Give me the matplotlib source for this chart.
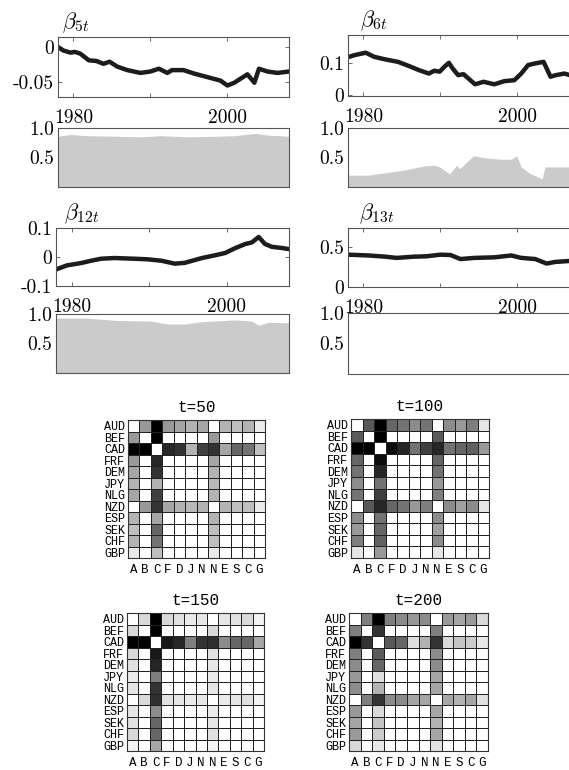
import matplotlib
matplotlib.use("Agg")
import matplotlib.pyplot as plt
import numpy as np

plt.rcParams['mathtext.fontset'] = 'cm'
plt.rcParams['font.family'] = 'serif'
plt.rcParams['font.serif'] = ['cmr10', 'DejaVu Serif']
plt.rcParams['axes.unicode_minus'] = False

# ---- time varying coefficients (line) ----
b5_years = [1978.0, 1978.7, 1979.6, 1980.2, 1980.9, 1982.0, 1983.0, 1983.9, 1984.7, 1985.7,
            1987.0, 1988.7, 1990.0, 1991.1, 1992.2, 1992.8, 1994.3, 1995.7, 1997.4, 1999.1,
            2000.0, 2000.9, 2002.6, 2003.5, 2004.1, 2005.2, 2006.5, 2008.0]
b5_vals = [0.0, -0.005, -0.008, -0.007, -0.0095, -0.019, -0.020, -0.024, -0.021, -0.028,
           -0.033, -0.037, -0.035, -0.031, -0.037, -0.033, -0.033, -0.038, -0.043, -0.048,
           -0.055, -0.051, -0.039, -0.051, -0.031, -0.035, -0.037, -0.035]

b6_years = [1977.9, 1978.8, 1980.3, 1981.4, 1982.8, 1984.5, 1985.9, 1987.2, 1988.5, 1989.2,
            1989.9, 1990.5, 1991.1, 1991.6, 1992.3, 1993.0, 1994.5, 1995.6, 1997.0, 1998.3,
            1999.6, 2000.5, 2001.4, 2002.3, 2003.4, 2004.3, 2005.0, 2006.1, 2006.8, 2007.3, 2008.0]
b6_vals = [0.119, 0.126, 0.134, 0.121, 0.113, 0.105, 0.092, 0.079, 0.068, 0.077,
           0.074, 0.089, 0.102, 0.084, 0.063, 0.066, 0.034, 0.042, 0.034, 0.044,
           0.047, 0.068, 0.095, 0.100, 0.105, 0.058, 0.063, 0.068, 0.063, 0.060, 0.060]

b12_years = [1977.9, 1979.4, 1981.2, 1982.5, 1983.8, 1985.5, 1988.1, 1989.8, 1991.6, 1993.3,
             1994.6, 1996.8, 1998.5, 1999.8, 2001.1, 2002.4, 2003.2, 2004.1, 2004.9, 2005.8,
             2007.1, 2008.3]
b12_vals = [-0.044, -0.029, -0.021, -0.013, -0.006, -0.0035, -0.006, -0.008, -0.013, -0.023,
            -0.020, -0.0035, 0.006, 0.014, 0.031, 0.045, 0.050, 0.069, 0.045, 0.035,
            0.031, 0.026]

b13_years = [1978.0, 1980.7, 1982.9, 1984.3, 1986.5, 1988.2, 1990.0, 1991.3, 1992.6, 1994.4,
             1997.0, 1999.2, 2000.5, 2002.3, 2003.8, 2004.9, 2007.2, 2008.0]
b13_vals = [0.40, 0.39, 0.375, 0.36, 0.375, 0.38, 0.40, 0.396, 0.346, 0.36,
            0.367, 0.39, 0.36, 0.346, 0.29, 0.31, 0.325, 0.325]

# ---- inclusion probabilities (filled) ----
p5_years = [1978.0, 1979.6, 1981.7, 1985.7, 1988.7, 1991.3, 1994.8, 1998.7, 2000.9, 2003.7, 2005.2, 2008.0]
p5_vals = [0.86, 0.89, 0.87, 0.86, 0.85, 0.87, 0.85, 0.86, 0.87, 0.91, 0.88, 0.86]

p6_years = [1977.9, 1980.5, 1982.8, 1985.4, 1988.1, 1989.2, 1989.9, 1991.2, 1992.1, 1992.5,
            1994.3, 1996.1, 1997.9, 1999.2, 1999.9, 2000.5, 2001.6, 2003.2, 2003.6, 2005.0, 2008.0]
p6_vals = [0.20, 0.20, 0.24, 0.29, 0.36, 0.37, 0.34, 0.22, 0.37, 0.31,
           0.53, 0.49, 0.47, 0.47, 0.53, 0.34, 0.23, 0.14, 0.34, 0.34, 0.34]

p12_years = [1977.9, 1982.0, 1985.9, 1990.2, 1992.4, 1994.6, 1996.8, 2001.1, 2003.2, 2004.1, 2005.4, 2008.3]
p12_vals = [0.93, 0.93, 0.89, 0.88, 0.83, 0.83, 0.87, 0.90, 0.88, 0.81, 0.86, 0.85]

p13_years = [1978.0, 1990.0, 2000.0, 2008.0]
p13_vals = [0.004, 0.006, 0.005, 0.004]

# ---- heat maps ----
currencies = ['AUD', 'BEF', 'CAD', 'FRF', 'DEM', 'JPY', 'NLG', 'NZD', 'ESP', 'SEK', 'CHF', 'GBP']
times = [50, 100, 150, 200]
aud_rows = [
    [0, 0.40, 1.0, 0.40, 0.35, 0.30, 0.35, 0, 0.30, 0.25, 0.30, 0.08],
    [0, 0.65, 1.0, 0.60, 0.55, 0.45, 0.55, 0, 0.45, 0.40, 0.50, 0.10],
    [0, 0.15, 1.0, 0.15, 0.12, 0.08, 0.10, 0, 0.10, 0.12, 0.15, 0.05],
    [0, 0.50, 1.0, 0.50, 0.45, 0.40, 0.45, 0, 0.40, 0.35, 0.40, 0.15],
]
cad_rows = [
    [1.0, 1.0, 0, 0.85, 0.80, 0.30, 0.75, 0.80, 0.35, 0.60, 0.55, 0.25],
    [1.0, 1.0, 0, 0.95, 0.85, 0.55, 0.75, 0.85, 0.55, 0.60, 0.62, 0.40],
    [1.0, 1.0, 0, 0.90, 0.85, 0.50, 0.80, 0.82, 0.45, 0.60, 0.60, 0.35],
    [1.0, 0.80, 0, 0.65, 0.60, 0.13, 0.30, 0.80, 0.15, 0.23, 0.20, 0.09],
]
nzd_rows = [
    [0, 0.40, 0.80, 0.35, 0.30, 0.28, 0.30, 0, 0.30, 0.25, 0.25, 0.08],
    [0, 0.65, 0.85, 0.60, 0.55, 0.40, 0.50, 0, 0.45, 0.37, 0.45, 0.10],
    [0, 0.15, 0.82, 0.12, 0.10, 0.08, 0.10, 0, 0.08, 0.10, 0.12, 0.05],
    [0, 0.50, 0.80, 0.45, 0.45, 0.35, 0.35, 0, 0.35, 0.30, 0.35, 0.12],
]

W, H = 569, 770
fig = plt.figure(figsize=(W / 100, H / 100), dpi=100)


def px_axes(l, t, r, b):
    return fig.add_axes([l / W, 1 - b / H, (r - l) / W, (b - t) / H])


def style_box(ax):
    for s in ax.spines.values():
        s.set_color('#555555')
        s.set_linewidth(0.8)


def line_panel(box, years, vals, ylim, yticks, ylabels, title, tx):
    ax = px_axes(*box)
    ax.plot(years, vals, color='#1c1c1c', lw=3.2, solid_joinstyle='round')
    ax.set_xlim(1978, 2008)
    ax.set_ylim(*ylim)
    ax.set_xticks([1980, 1990, 2000])
    ax.set_xticklabels(['1980', '', '2000'])
    ax.set_yticks(yticks)
    ax.set_yticklabels(ylabels)
    ax.tick_params(direction='in', top=True, right=True, length=3, width=0.6,
                   color='#555555', labelsize=14)
    ax.tick_params(axis='x', pad=8.5)
    ax.tick_params(axis='y', pad=3)
    style_box(ax)
    ax.text(tx, 1.15, title, transform=ax.transAxes, fontsize=16, va='baseline', ha='left')
    return ax


def fill_panel(box, years, vals):
    ax = px_axes(*box)
    ax.fill_between(years, 0, vals, color='#cbcbcb', lw=0)
    ax.set_xlim(1978, 2008)
    ax.set_ylim(0, 1)
    ax.set_xticks([])
    ax.set_yticks([1.0, 0.5])
    ax.set_yticklabels(['1.0', '0.5'])
    ax.tick_params(length=0, labelsize=14, pad=3)
    style_box(ax)
    return ax


line_panel((58, 37, 289, 97), b5_years, b5_vals, (-0.0714, 0.0143), [0, -0.05], ['0', '-0.05'],
           r'$\beta_{5t}$', 0.017)
fill_panel((58, 128, 289, 187), p5_years, p5_vals)

line_panel((348, 35, 579, 96), b6_years, b6_vals, (-0.003, 0.19), [0, 0.1], ['0', '0.1'],
           r'$\beta_{6t}$', 0.052)
fill_panel((348, 128, 579, 187), p6_years, p6_vals)

line_panel((56, 228, 289, 286), b12_years, b12_vals, (-0.1, 0.1), [0.1, 0, -0.1], ['0.1', '0', '-0.1'],
           r'$\beta_{12t}$', 0.035)
fill_panel((56, 314, 289, 373), p12_years, p12_vals)

line_panel((348, 228, 579, 287), b13_years, b13_vals, (0, 0.73), [0, 0.5], ['0', '0.5'],
           r'$\beta_{13t}$', 0.048)
fill_panel((348, 313, 579, 374), p13_years, p13_vals)

# heat maps
heat_boxes = [(128, 420, 265, 558), (351, 419, 489, 558), (127, 613, 264, 751), (349, 613, 488, 751)]
mono = ['Liberation Mono', 'DejaVu Sans Mono']
for k, t in enumerate(times):
    n = len(currencies)
    M = np.zeros((n, n))
    for idx, row in ((0, aud_rows[k]), (2, cad_rows[k]), (7, nzd_rows[k])):
        M[idx, :] = row
        M[:, idx] = row
    ax = px_axes(*heat_boxes[k])
    ax.pcolormesh(M, cmap='gray_r', vmin=0, vmax=1, edgecolors='#222222', linewidth=0.55)
    ax.set_xlim(0, n)
    ax.set_ylim(n, 0)
    ax.set_xticks(np.arange(n) + 0.5)
    ax.set_xticklabels([c[0] for c in currencies], family=mono, fontsize=9)
    ax.set_yticks(np.arange(n) + 0.5)
    ax.set_yticklabels(currencies, family=mono, fontsize=8.5)
    ax.tick_params(length=0)
    ax.tick_params(axis='x', pad=4.5)
    ax.tick_params(axis='y', pad=2)
    for s in ax.spines.values():
        s.set_color('#333333')
        s.set_linewidth(0.8)
    ax.set_title('t=%d' % t, family=mono, fontsize=11.5, pad=6)

fig.savefig('out.png', dpi=100)
